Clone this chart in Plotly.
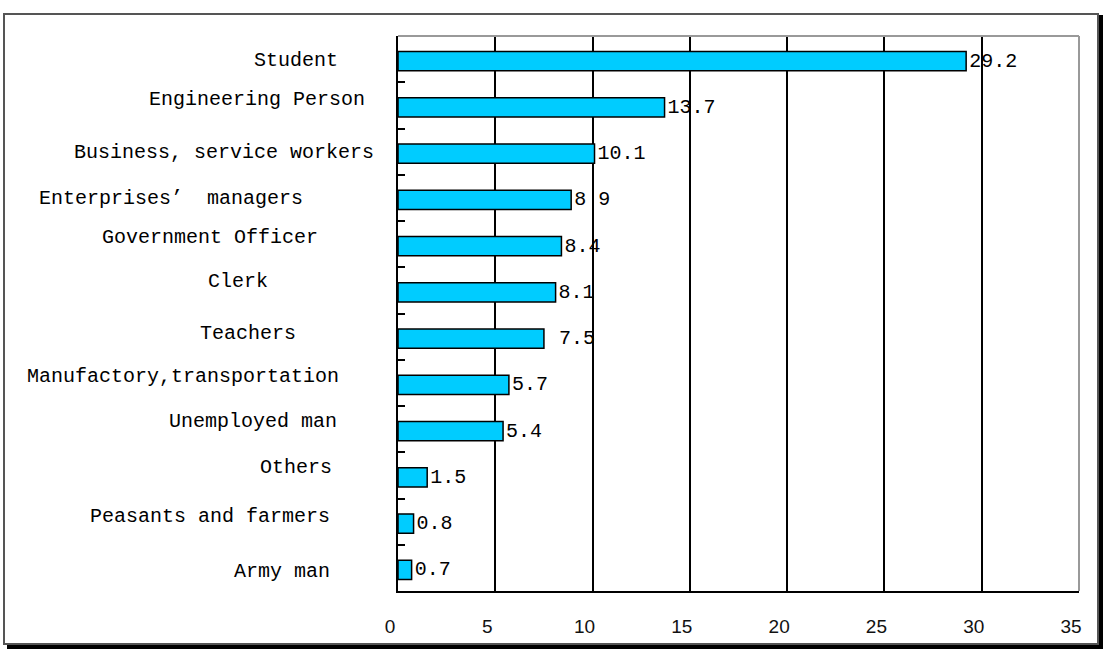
import plotly.graph_objects as go

# ---- data ----
categories = ["Student", "Engineering Person", "Business, service workers",
              "Enterprises’  managers", "Government Officer", "Clerk", "Teachers",
              "Manufactory,transportation", "Unemployed man", "Others",
              "Peasants and farmers", "Army man"]
values = [29.2, 13.7, 10.1, 8.9, 8.4, 8.1, 7.5, 5.7, 5.4, 1.5, 0.8, 0.7]
value_text = ["29.2", "13.7", "10.1", "8 9", "8.4", "8.1", " 7.5", "5.7", "5.4", "1.5", "0.8", "0.7"]
x_ticks = [0, 5, 10, 15, 20, 25, 30, 35]

# ---- layout geometry (pixels) ----
W, H = 1104, 652
L, R, T, B = 398, 1079, 36, 591
CAT_PX = (B - T) / len(categories)
# label right edge (px) and vertical shift (px) for each category label
label_right = [340, 367, 376, 305, 320, 270, 298, 341, 339, 334, 332, 332]
label_yshift = [-1, 6, -1, -1, 7, 9, 3, 6, 8, 8, 5, -4]
BAR_W = 0.42
BAR_DROP_PX = 2

def px(x):
    return (x - L) / (R - L)

def py(y):
    return (B - y) / (B - T)

MONO = "Liberation Mono, Courier New, monospace"

fig = go.Figure()
fig.add_trace(go.Bar(
    y=categories, x=values, orientation="h",
    marker=dict(color="#00CCFF", line=dict(color="black", width=1.5)),
    width=BAR_W, offset=-BAR_W / 2 - BAR_DROP_PX / CAT_PX,
    text=value_text, textposition="outside", cliponaxis=False,
    constraintext="none",
    textfont=dict(family=MONO, size=20, color="black"),
    hoverinfo="x+y",
))

annotations = []
for cat, rx, ys in zip(categories, label_right, label_yshift):
    annotations.append(dict(
        x=0, xref="x", y=cat, yref="y", text=cat, showarrow=False,
        xanchor="right", yanchor="middle", xshift=rx - L, yshift=ys,
        font=dict(family=MONO, size=20, color="black"),
    ))

shapes = [
    # shadow of outer frame
    dict(type="rect", xref="paper", yref="paper",
         x0=px(1098), x1=px(1103), y0=py(649), y1=py(15),
         fillcolor="black", line=dict(width=0), layer="below"),
    dict(type="rect", xref="paper", yref="paper",
         x0=px(7), x1=px(1103), y0=py(649), y1=py(644),
         fillcolor="black", line=dict(width=0), layer="below"),
    # outer frame
    dict(type="rect", xref="paper", yref="paper",
         x0=px(4), x1=px(1098), y0=py(644), y1=py(14),
         line=dict(color="#555555", width=2), layer="below"),
    # gray top / right border of plot area
    dict(type="line", xref="paper", yref="paper", x0=0, x1=1, y0=1, y1=1,
         line=dict(color="#999999", width=2)),
    dict(type="line", xref="paper", yref="paper", x0=1, x1=1, y0=0, y1=1,
         line=dict(color="#999999", width=2)),
]

fig.update_layout(
    width=W, height=H,
    margin=dict(l=L, r=W - R, t=T, b=H - B, pad=0, autoexpand=False),
    paper_bgcolor="white", plot_bgcolor="white",
    showlegend=False,
    annotations=annotations,
    shapes=shapes,
    xaxis=dict(range=[0, 35], tickvals=x_ticks, ticktext=[str(v) for v in x_ticks],
               showgrid=True, gridcolor="black", gridwidth=1.5,
               zeroline=False, showline=True, linecolor="black", linewidth=2,
               ticks="", tickfont=dict(family="Liberation Sans, Arial", size=19, color="#111111"),
               ticklabelstandoff=17, ticklabelshift=-8, fixedrange=True,
               automargin=False),
    yaxis=dict(categoryorder="array", categoryarray=categories[::-1],
               showticklabels=False, showgrid=False, zeroline=False,
               showline=True, linecolor="black", linewidth=2,
               ticks="inside", ticklen=7, tickwidth=1.5, tickcolor="black",
               tickson="boundaries", fixedrange=True, automargin=False),
)

fig.write_html("out.html", config={"displayModeBar": False},
               post_script="document.body.style.margin='0';document.body.style.overflow='hidden';")
